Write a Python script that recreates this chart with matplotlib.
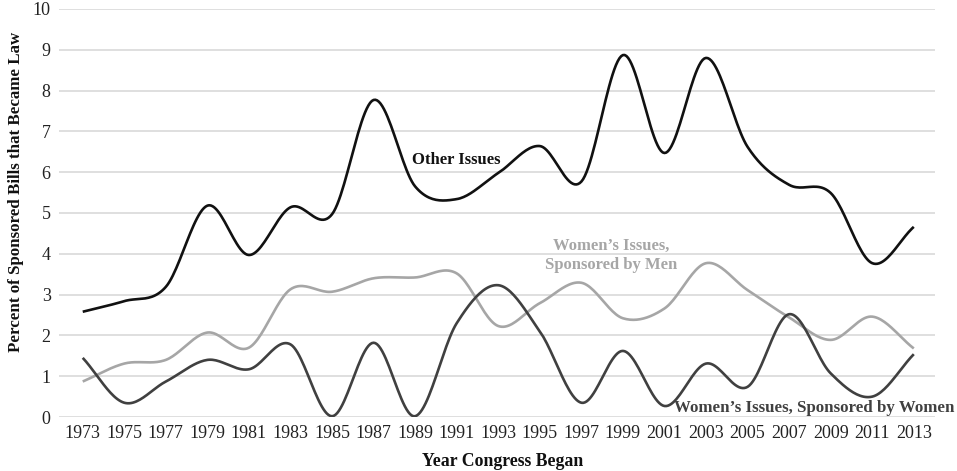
import matplotlib
matplotlib.use("Agg")
import matplotlib.pyplot as plt
import numpy as np

years = [1973, 1975, 1977, 1979, 1981, 1983, 1985, 1987, 1989, 1991, 1993,
         1995, 1997, 1999, 2001, 2003, 2005, 2007, 2009, 2011, 2013]
other_issues = [2.58, 2.84, 3.19, 5.18, 3.97, 5.14, 4.97, 7.77, 5.65, 5.34, 5.98,
                6.64, 5.77, 8.87, 6.47, 8.80, 6.62, 5.69, 5.49, 3.77, 4.66]
women_by_men = [0.87, 1.31, 1.40, 2.07, 1.70, 3.13, 3.07, 3.40, 3.42, 3.52, 2.23,
                2.79, 3.29, 2.42, 2.66, 3.77, 3.11, 2.44, 1.89, 2.46, 1.68]
women_by_women = [1.45, 0.35, 0.87, 1.40, 1.17, 1.78, 0.02, 1.82, 0.02, 2.30, 3.23,
                  2.10, 0.35, 1.62, 0.27, 1.31, 0.74, 2.52, 1.07, 0.50, 1.54]

plt.rcParams['font.family'] = ['Liberation Serif', 'DejaVu Serif']


def smooth(xs, ys, n=24):
    xs = np.asarray(xs, float)
    ys = np.asarray(ys, float)
    px = np.concatenate([[2 * xs[0] - xs[1]], xs, [2 * xs[-1] - xs[-2]]])
    py = np.concatenate([[2 * ys[0] - ys[1]], ys, [2 * ys[-1] - ys[-2]]])
    ox, oy = [], []
    t = np.linspace(0, 1, n, endpoint=False)
    for i in range(1, len(px) - 2):
        for arr, out in ((px, ox), (py, oy)):
            p0, p1, p2, p3 = arr[i - 1], arr[i], arr[i + 1], arr[i + 2]
            out.extend(0.5 * ((2 * p1) + (-p0 + p2) * t
                              + (2 * p0 - 5 * p1 + 4 * p2 - p3) * t ** 2
                              + (-p0 + 3 * p1 - 3 * p2 + p3) * t ** 3))
    ox.append(xs[-1]); oy.append(ys[-1])
    return np.array(ox), np.array(oy)


fig = plt.figure(figsize=(9.57, 4.71), dpi=100)
ax = fig.add_axes([0.0617, 0.1146, 0.9153, 0.8664])

idx = np.arange(len(years))
for vals, col in ((women_by_men, '#a6a6a6'), (women_by_women, '#404040'),
                  (other_issues, '#111111')):
    sx, sy = smooth(idx, vals)
    ax.plot(sx, sy, color=col, lw=1.9, solid_capstyle='butt', zorder=3)

ax.set_xlim(-0.57, 20.51)
ax.set_ylim(0, 10)
ax.set_yticks(range(0, 11))
ax.set_xticks(idx)
ax.set_xticklabels([str(y) for y in years])
ax.tick_params(axis='both', length=0, labelsize=13, colors='#222222')
ax.tick_params(axis='x', pad=6)
ax.tick_params(axis='y', pad=6)
ax.grid(axis='y', color='#d9d9d9', lw=1.2)
ax.set_axisbelow(True)
for s in ax.spines.values():
    s.set_visible(False)

fig.text(16 / 957, 1 - 192 / 471, 'Percent of Sponsored Bills that Became Law',
         fontsize=12.2, fontweight='bold', rotation=90, ha='center', va='center',
         color='#111111')
fig.text(503 / 957, 1 - 462 / 471, 'Year Congress Began', fontsize=12.8,
         fontweight='bold', ha='center', va='center', color='#111111')

ax.text(9.0, 6.3, 'Other Issues', fontsize=12, fontweight='bold',
        color='#111111', ha='center', va='center')
ax.text(12.72, 3.97, 'Women\u2019s Issues,\nSponsored by Men', fontsize=12,
        fontweight='bold', color='#a6a6a6', ha='center', va='center',
        linespacing=1.25)
ax.text(20.98, 0.22, 'Women\u2019s Issues, Sponsored by Women', fontsize=12.2,
        fontweight='bold', color='#404040', ha='right', va='center',
        clip_on=False)

fig.savefig('out.png', dpi=100)
